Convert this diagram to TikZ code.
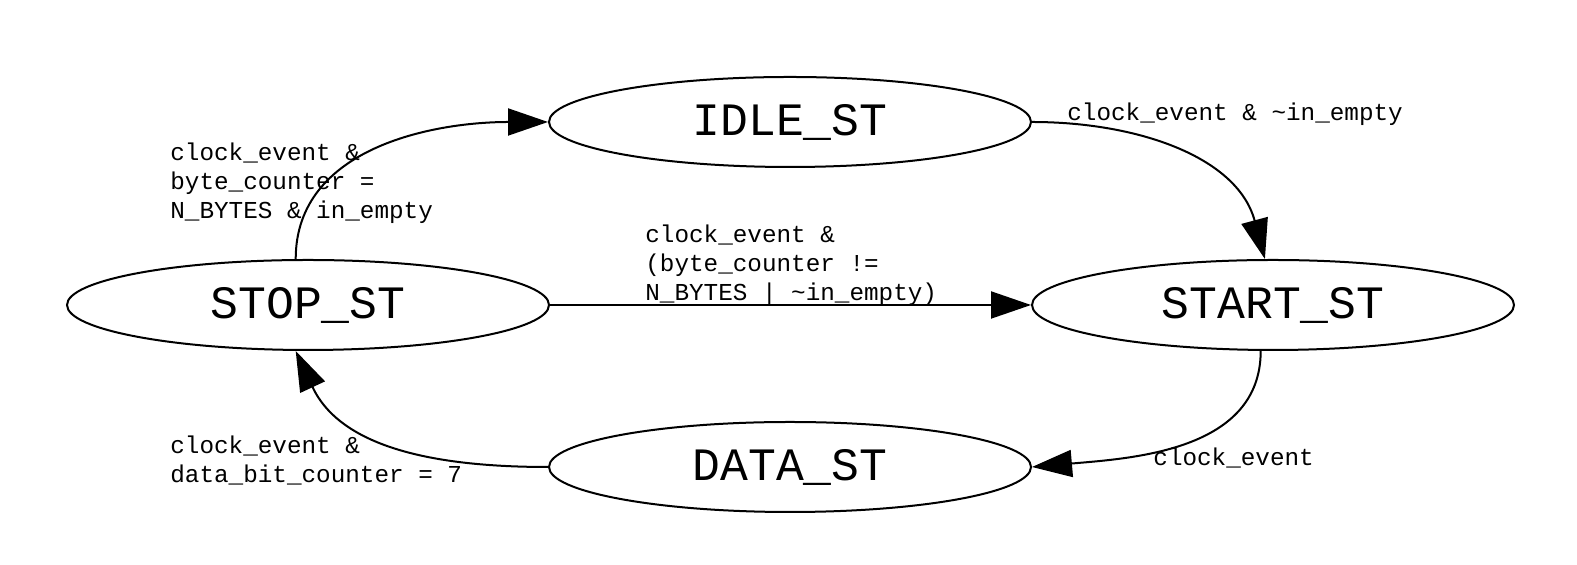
\documentclass[tikz,border=0pt]{standalone}
\usepackage{fontspec}
\setmonofont{Liberation Mono}
\usetikzlibrary{shapes.geometric,arrows.meta}
\tikzset{
  state/.style={draw, ellipse, line width=1pt, minimum width=241pt, minimum height=45pt, inner sep=0pt,
    font=\ttfamily\fontsize{23.2}{27}\selectfont},
  cond/.style={anchor=north west, inner sep=0pt, align=left,
    font=\ttfamily\fontsize{12.15}{14.5}\selectfont},
  trans/.style={line width=1pt, -{Triangle[length=20pt,width=13.5pt]}}
}
\begin{document}
\begin{tikzpicture}[x=0.5pt,y=0.5pt]
\useasboundingbox (0,0) rectangle (1577,565);
% states
\node[state] (idle) at (790,443) {IDLE\_ST};
\node[state] (stop) at (308,260) {STOP\_ST};
\node[state] (start) at (1273,260) {START\_ST};
\node[state] (data) at (790,98) {DATA\_ST};
% transitions
\draw[trans] (stop.105) to[out=90,in=180] (idle.west);
\draw[trans] (idle.east) to[out=0,in=105] (start.100);
\draw[trans] (stop.east) -- (start.west);
\draw[trans] (start.-105) to[out=-90,in=5] (data.east);
\draw[trans] (data.west) to[out=180,in=-65] (stop.-105);
% conditions
\node[cond] (cidle) at (170,422) {clock\_event \&\\byte\_counter =\\N\_BYTES \& in\_empty};
\node[cond] (cstart) at (1067,462) {clock\_event \& \textasciitilde in\_empty};
\node[cond] (cnext) at (645,340) {clock\_event \&\\(byte\_counter !=\\N\_BYTES \textbar{} \textasciitilde in\_empty)};
\node[cond] (cdata) at (1153,117) {clock\_event};
\node[cond] (cstop) at (170,130) {clock\_event \&\\data\_bit\_counter = 7};
\end{tikzpicture}
\end{document}
